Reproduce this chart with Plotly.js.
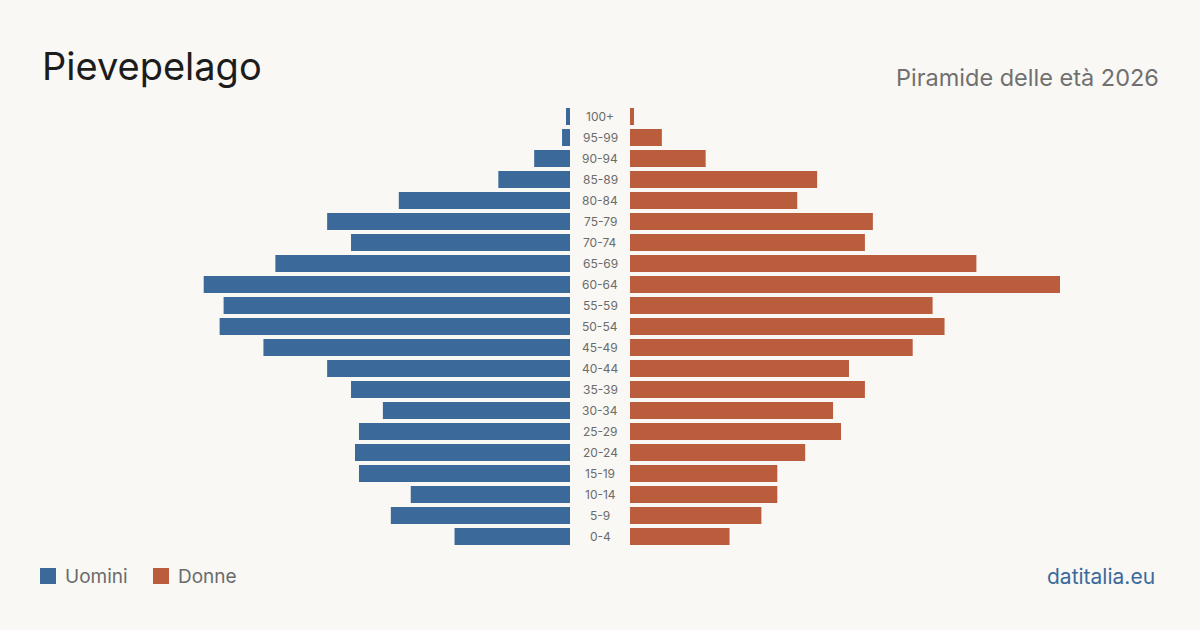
<!DOCTYPE html>
<html>
<head>
<meta charset="utf-8">
<script src="https://cdn.plot.ly/plotly-3.0.1.min.js"></script>
<style>
  html, body { margin: 0; padding: 0; background: #f9f8f4; }
  #chart { width: 1200px; height: 630px; }
</style>
</head>
<body>
<div id="chart"></div>
<script>
// Age classes, bottom to top
const ageGroups = ["0-4","5-9","10-14","15-19","20-24","25-29","30-34","35-39","40-44","45-49",
                   "50-54","55-59","60-64","65-69","70-74","75-79","80-84","85-89","90-94","95-99","100+"];
// Residents per age class
const men   = [29,45,40,53,54,53,47,55,61,77,88,87,92,74,55,61,43,18,9,2,1];
const women = [25,33,37,37,44,53,51,59,55,71,79,76,108,87,59,61,42,47,19,8,1];

const title = "Pievepelago";
const subtitle = "Piramide delle età 2026";
const legendLabels = ["Uomini", "Donne"];
const source = "datitalia.eu";

const BLUE = "#3b6a9a";
const RUST = "#b95d3d";
const FONT = "Inter, 'Noto Sans', sans-serif";
const W = 1200, H = 630;
const maxVal = Math.max(...men, ...women);

const traces = [
  { type: "bar", orientation: "h", y: ageGroups, x: men, xaxis: "x", yaxis: "y",
    marker: { color: BLUE }, hoverinfo: "x+y", name: legendLabels[0] },
  { type: "bar", orientation: "h", y: ageGroups, x: women, xaxis: "x2", yaxis: "y",
    marker: { color: RUST }, hoverinfo: "x+y", name: legendLabels[1] }
];

const annotations = ageGroups.map(a => ({
  text: a, x: 600 / W, xref: "paper", y: a, yref: "y",
  xanchor: "center", yanchor: "middle", showarrow: false,
  font: { family: FONT, size: 12, color: "#6b6b6b" }
}));

annotations.push(
  { text: title, x: 40 / W, y: 1 - 66 / H, xref: "paper", yref: "paper",
    xanchor: "left", yanchor: "middle", showarrow: false,
    font: { family: FONT, size: 38, color: "#1c1c1c" } },
  { text: subtitle, x: 1161 / W, y: 1 - 77 / H, xref: "paper", yref: "paper",
    xanchor: "right", yanchor: "middle", showarrow: false,
    font: { family: FONT, size: 23.5, color: "#707070" } },
  { text: legendLabels[0], x: 63 / W, y: 1 - 576 / H, xref: "paper", yref: "paper",
    xanchor: "left", yanchor: "middle", showarrow: false,
    font: { family: FONT, size: 19, color: "#6b6b6b" } },
  { text: legendLabels[1], x: 176 / W, y: 1 - 576 / H, xref: "paper", yref: "paper",
    xanchor: "left", yanchor: "middle", showarrow: false,
    font: { family: FONT, size: 19, color: "#6b6b6b" } },
  { text: source, x: 1157 / W, y: 1 - 576 / H, xref: "paper", yref: "paper",
    xanchor: "right", yanchor: "middle", showarrow: false,
    font: { family: FONT, size: 21, color: "#3b6a9a" } }
);

const shapes = [
  { type: "rect", xref: "paper", yref: "paper", x0: 40 / W, x1: 56 / W,
    y0: 1 - 584 / H, y1: 1 - 568 / H, fillcolor: BLUE, line: { width: 0 } },
  { type: "rect", xref: "paper", yref: "paper", x0: 153 / W, x1: 169 / W,
    y0: 1 - 584 / H, y1: 1 - 568 / H, fillcolor: RUST, line: { width: 0 } }
];

const layout = {
  width: W, height: H,
  margin: { l: 0, r: 0, t: 0, b: 0 },
  paper_bgcolor: "#f9f8f4", plot_bgcolor: "rgba(0,0,0,0)",
  showlegend: false,
  bargap: 0.19,
  xaxis:  { domain: [140 / W, 570 / W], range: [maxVal, 0], visible: false, fixedrange: true },
  xaxis2: { domain: [630 / W, 1060 / W], range: [0, maxVal], visible: false, fixedrange: true },
  yaxis:  { domain: [83 / H, 524 / H], type: "category", categoryorder: "array",
            categoryarray: ageGroups, visible: false, fixedrange: true },
  annotations: annotations,
  shapes: shapes,
  font: { family: FONT }
};

Plotly.newPlot("chart", traces, layout, { displayModeBar: false, staticPlot: true });
</script>
</body>
</html>
